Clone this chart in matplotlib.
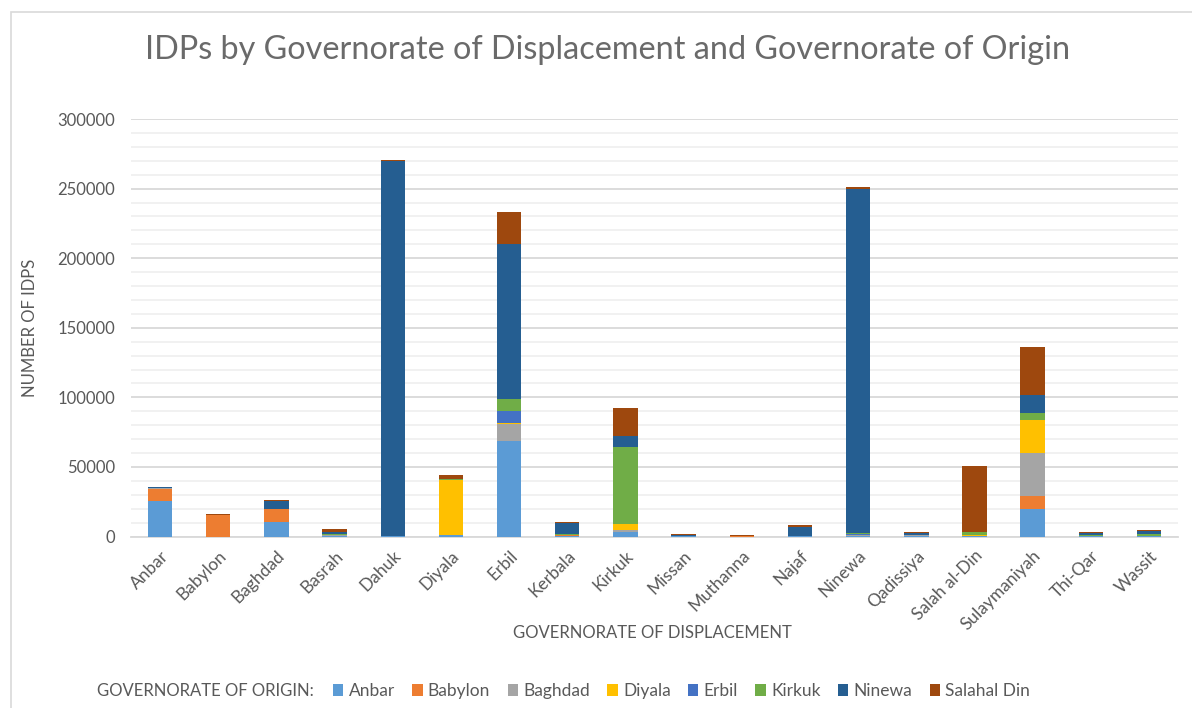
import matplotlib
matplotlib.use("Agg")
import matplotlib.pyplot as plt
import numpy as np
from matplotlib.ticker import MultipleLocator
from matplotlib.patches import Rectangle

plt.rcParams['font.family'] = ['Lato', 'DejaVu Sans']

categories = ["Anbar", "Babylon", "Baghdad", "Basrah", "Dahuk", "Diyala", "Erbil",
              "Kerbala", "Kirkuk", "Missan", "Muthanna", "Najaf", "Ninewa",
              "Qadissiya", "Salah al-Din", "Sulaymaniyah", "Thi-Qar", "Wassit"]

origins = ["Anbar", "Babylon", "Baghdad", "Diyala", "Erbil", "Kirkuk", "Ninewa", "Salahal Din"]
colors = ["#5B9BD5", "#ED7D31", "#A5A5A5", "#FFC000", "#4472C4", "#70AD47", "#255E91", "#9E480E"]

anbar      = [25500, 0,     10600, 500,  200,    800,   68400, 300,   3000,  200, 0,   100,  500,    300,  200,   19800, 300,  300]
babylon    = [8600,  15700, 8900,  200,  0,      0,     0,     500,   300,   0,   500, 0,    0,      300,  0,     9300,  300,  200]
baghdad    = [500,   0,     0,     200,  200,    600,   12600, 0,     1200,  300, 0,   100,  500,    200,  0,     30900, 100,  0]
diyala     = [0,     0,     500,   0,    0,      39200, 500,   0,     4700,  0,   0,   0,    0,      0,    1200,  23700, 0,    0]
erbil      = [0,     0,     0,     0,    0,      0,     8600,  0,     0,     0,   0,   0,    500,    0,    0,     0,     0,    0]
kirkuk     = [0,     0,     0,     800,  0,      600,   8600,  700,   54900, 0,   0,   0,    1200,   500,  1700,  4800,  500,  1000]
ninewa     = [800,   0,     5500,  1800, 269500, 0,     111400, 8500, 8300,  600, 0,   6900, 247300, 1300, 300,   13200, 1500, 2500]
salahaldin = [500,   400,   900,   1900, 1000,   3000,  23000, 200,   20200, 700, 600, 900,  1000,   600,  47300, 34500, 500,  500]

series = [anbar, babylon, baghdad, diyala, erbil, kirkuk, ninewa, salahaldin]

fig = plt.figure(figsize=(11.92, 7.08), dpi=100)
ax = fig.add_axes([0.1099, 0.2422, 0.8784, 0.5897])

# chart border
fig.patches.append(Rectangle((11/1192, -0.01), 1.2, 1 - 12/708 + 0.01, transform=fig.transFigure,
                             fill=False, edgecolor="#D9D9D9", linewidth=1.2))

x = np.arange(len(categories))
bottom = np.zeros(len(categories))
for name, vals, c in zip(origins, series, colors):
    v = np.array(vals, dtype=float)
    ax.bar(x, v, 0.42, bottom=bottom, color=c, label=name, zorder=3)
    bottom += v

ax.set_xlim(-0.5, len(categories) - 0.5)
ax.set_ylim(0, 300000)
ax.yaxis.set_major_locator(MultipleLocator(50000))
ax.yaxis.set_minor_locator(MultipleLocator(10000))
ax.grid(which='major', axis='y', color="#D9D9D9", linewidth=1.3, zorder=0)
ax.grid(which='minor', axis='y', color="#F0F0F0", linewidth=1.3, zorder=0)
ax.set_axisbelow(True)
for s in ["top", "right", "left"]:
    ax.spines[s].set_visible(False)
ax.spines["bottom"].set_color("#D9D9D9")
ax.spines["bottom"].set_linewidth(1.3)
ax.tick_params(axis='both', which='both', length=0, colors="#595959", labelsize=12.5)
ax.tick_params(axis='y', pad=11.5, labelsize=12)
ax.set_yticklabels([f"{int(t)}" for t in ax.get_yticks()])
ax.set_xticks(x)
ax.set_xticklabels(categories, rotation=45, ha='right', rotation_mode='anchor')
ax.tick_params(axis='x', pad=8)

ax.set_ylabel("NUMBER OF IDPS", color="#595959", fontsize=12)
ax.yaxis.set_label_coords(-0.0888, 0.5)
fig.text(652/1192, 1 - 633/708, "GOVERNORATE OF DISPLACEMENT", ha='center', va='center',
         color="#595959", fontsize=12)
fig.text(608/1192, 1 - 50/708, "IDPs by Governorate of Displacement and Governorate of Origin",
         ha='center', va='center', color="#6A6A6A", fontsize=23.3, fontweight='normal')

fig.text(97/1192, 1 - 691/708, "GOVERNORATE OF ORIGIN:", ha='left', va='center',
         color="#595959", fontsize=12)
handles, labels = ax.get_legend_handles_labels()
leg = fig.legend(handles, labels, loc='center left', bbox_to_anchor=(326/1192, 1 - 691/708),
                 ncol=8, frameon=False, fontsize=12.5, handlelength=0.6, handleheight=0.7,
                 handletextpad=0.3, columnspacing=1.0, labelcolor="#595959", borderaxespad=0)

fig.savefig("out.png", dpi=100)
